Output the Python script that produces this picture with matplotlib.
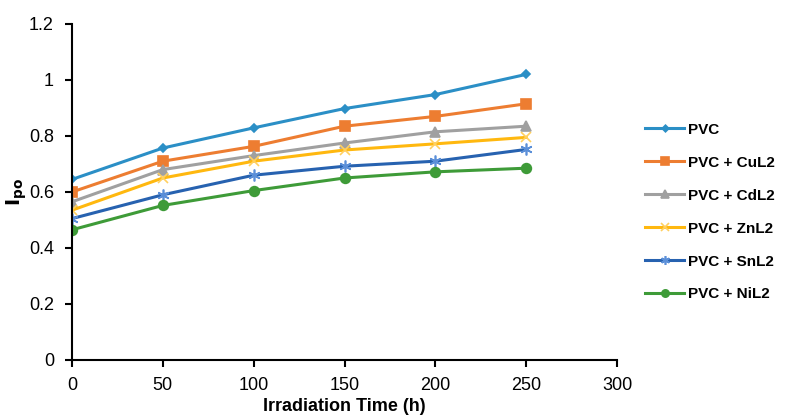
import numpy as np
import matplotlib.pyplot as plt

plt.rcParams['font.family'] = ['Liberation Sans', 'DejaVu Sans']

# Datos
tiempo = [0, 50, 100, 150, 200, 250]
pvc = [0.645, 0.757, 0.829, 0.898, 0.948, 1.02]
pvc_cu = [0.60, 0.71, 0.763, 0.835, 0.87, 0.915]
pvc_cd = [0.565, 0.68, 0.73, 0.775, 0.815, 0.835]
pvc_zn = [0.535, 0.65, 0.71, 0.75, 0.772, 0.795]
pvc_sn = [0.505, 0.59, 0.66, 0.692, 0.71, 0.752]
pvc_ni = [0.465, 0.552, 0.605, 0.65, 0.672, 0.685]
etiquetas = ['PVC', 'PVC + CuL2', 'PVC + CdL2', 'PVC + ZnL2', 'PVC + SnL2', 'PVC + NiL2']

series = [pvc, pvc_cu, pvc_cd, pvc_zn, pvc_sn, pvc_ni]
colores = ['#2B8FC6', '#ED7D31', '#A0A0A0', '#FFB80F', '#2762B0', '#3E9B38']
marcadores = ['D', 's', '^', 'x', (6, 2, 0), 'o']
tam = [4.5, 7.5, 7, 7.5, 8.5, 7]
color_marcador = ['#2B8FC6', '#ED7D31', '#A0A0A0', '#FFD060', '#5B8FD8', '#3E9B38']

fig = plt.figure(figsize=(7.9, 4.2), dpi=100)
ax = fig.add_axes([72 / 790, (420 - 360) / 420, (617 - 72) / 790, (360 - 24) / 420])

for y, lab, c, m, s, mc in zip(series, etiquetas, colores, marcadores, tam, color_marcador):
    ax.plot(tiempo, y, color=c, lw=2.2, marker=m, markersize=s,
            markerfacecolor=mc, markeredgecolor=mc, markeredgewidth=1.2, label=lab)

ax.set_xlim(0, 300)
ax.set_ylim(0, 1.2)
ax.set_xticks(np.arange(0, 301, 50))
ax.set_yticks(np.arange(0, 1.21, 0.2))
ax.set_yticklabels(['0', '0.2', '0.4', '0.6', '0.8', '1', '1.2'])
ax.spines['top'].set_visible(False)
ax.spines['right'].set_visible(False)
ax.spines['left'].set_linewidth(1.5)
ax.spines['bottom'].set_linewidth(1.5)
ax.tick_params(axis='both', labelsize=13, width=1.5, length=5, direction='out')
ax.tick_params(axis='x', pad=7)
ax.tick_params(axis='y', pad=8)

ax.set_xlabel('Irradiation Time (h)', fontsize=13, fontweight='bold', labelpad=3)
ax.set_ylabel(r'$\mathbf{I_{po}}$', fontsize=14, labelpad=0)

leg = fig.legend(loc='upper left', bbox_to_anchor=(631 / 790, 1 - 109 / 420), frameon=False,
                 prop={'weight': 'bold', 'size': 11}, handlelength=2.6, labelspacing=1.24,
                 handletextpad=0.2, markerscale=0.75)

fig.savefig('out.png', dpi=100)
